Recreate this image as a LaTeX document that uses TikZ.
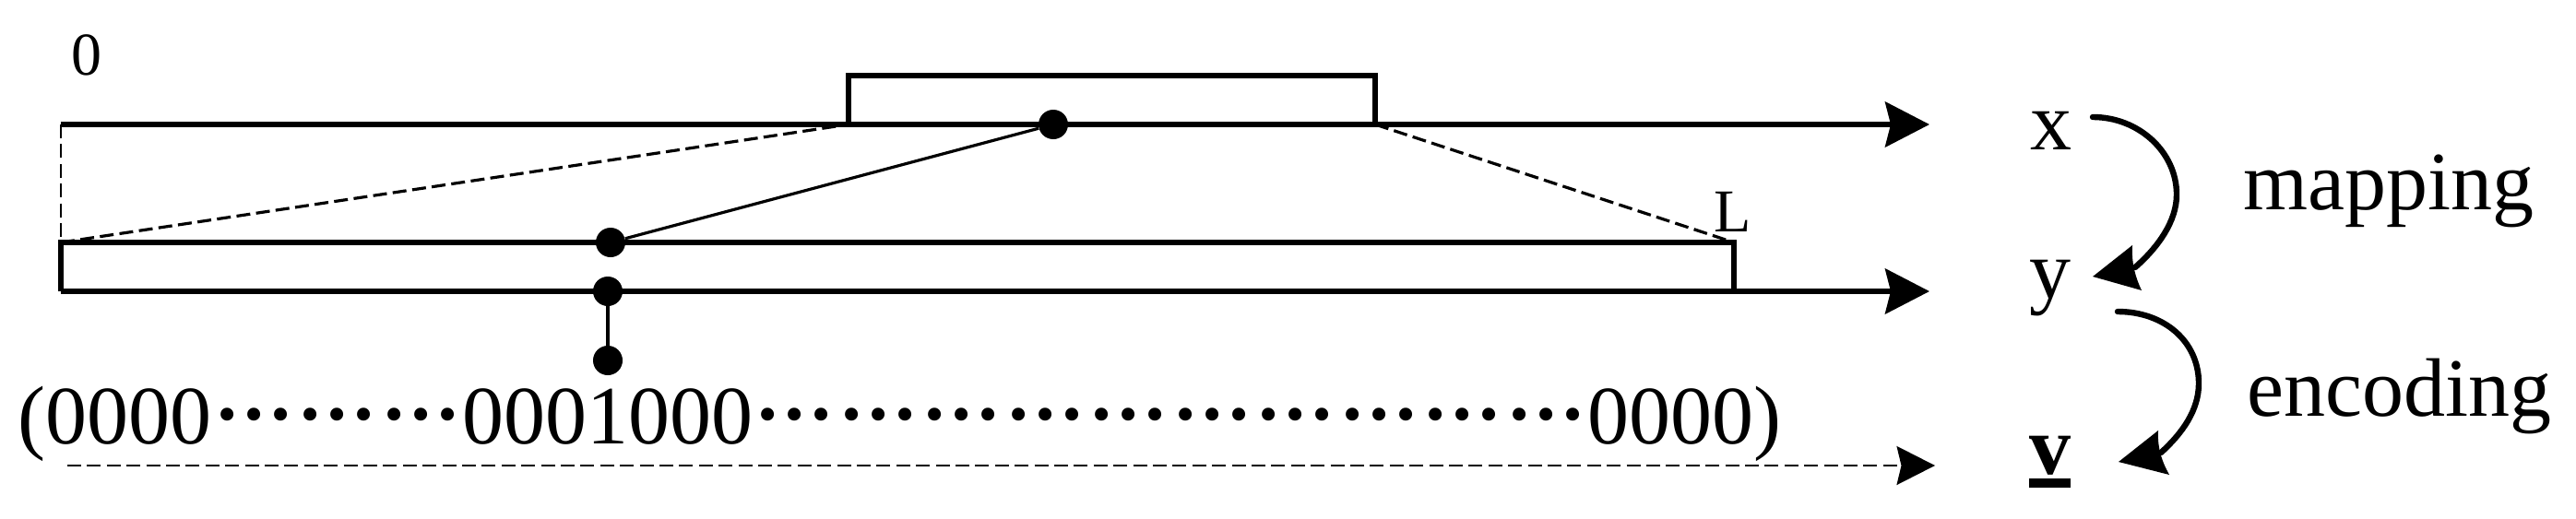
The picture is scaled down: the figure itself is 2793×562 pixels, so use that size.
\documentclass[tikz,border=0pt]{standalone}
\usepackage{fontspec}
\setmainfont{Liberation Serif}
\usetikzlibrary{arrows.meta}
\newcommand{\dotrun}{\makebox[45.25pt][c]{\raisebox{13pt}{\fontsize{43pt}{45pt}\selectfont\bfseries …}}}
\tikzset{
  x=0.5pt,y=-0.5pt,
  bigtext/.style={inner sep=0pt,anchor=base west,font=\fontsize{45pt}{50pt}\selectfont},
  smalltext/.style={inner sep=0pt,anchor=base west,font=\fontsize{33pt}{40pt}\selectfont},
  axis/.style={line width=2.9pt,-{Stealth[length=24pt,width=24.5pt,inset=3pt]}},
  thickline/.style={line width=2.9pt},
  thinline/.style={line width=1.6pt},
  guide/.style={line width=1.6pt,dash pattern=on 7.5pt off 3.2pt},
  fineguide/.style={line width=1.1pt,dash pattern=on 7.5pt off 3.2pt},
  blackdot/.style={circle,fill=black,inner sep=0pt,minimum size=16pt},
  turn/.style={line width=3.2pt,line cap=round}
}
\begin{document}
\begin{tikzpicture}
  \path[use as bounding box] (0,0) rectangle (2793,562);
  \coordinate (xstart) at (66,135);
  \coordinate (xend) at (2092,135);
  \coordinate (boxleft) at (920,135);
  \coordinate (boxlefttop) at (920,82);
  \coordinate (boxrighttop) at (1491,82);
  \coordinate (boxright) at (1491,135);
  \coordinate (ytopleft) at (66,263);
  \coordinate (ytopright) at (1880,263);
  \coordinate (ybotleft) at (66,316);
  \coordinate (ybotright) at (1880,316);
  \coordinate (yend) at (2092,316);
  \coordinate (vstart) at (73,505);
  \coordinate (vend) at (2098,505);

  \node[smalltext] (zero) at (77,81) {0};
  \node[smalltext] (len) at (1858,251) {L};
  \node[bigtext] (bits) at (19.5,481) {(0000\dotrun\dotrun\dotrun 0001000\dotrun\dotrun\dotrun\dotrun\dotrun\dotrun\dotrun\dotrun\dotrun\dotrun 0000)};
  \node[bigtext] (xlabel) at (2201,162) {x};
  \node[bigtext] (ylabel) at (2200,323) {y};
  \node[bigtext] (vlabel) at (2200,514) {\textbf{v}\llap{\rule[-7.5pt]{22.5pt}{5pt}}};
  \node[bigtext] (mapping) at (2432,227) {mapping};
  \node[bigtext] (encoding) at (2436,451) {encoding};

  \node[blackdot] (dota) at (1142,135) {};
  \node[blackdot] (dotb) at (662,263) {};
  \node[blackdot] (dotc) at (659,316) {};
  \node[blackdot] (dotd) at (659,391) {};

  \draw[axis] (xstart) -- (xend);
  \draw[axis] (ybotleft) -- (yend);
  \draw[thickline] (boxleft) -- (boxlefttop) -- (boxrighttop) -- (boxright);
  \draw[thickline] (ybotleft) -- (ytopleft) -- (ytopright) -- (ybotright);
  \draw[fineguide] (xstart) -- (ytopleft);
  \draw[guide] (ytopleft) -- (boxleft);
  \draw[guide] (boxright) -- (ytopright);
  \draw[fineguide,-{Stealth[length=20.75pt,width=21pt,inset=2.5pt]}] (vstart) -- (vend);
  \draw[thinline] (dota) -- (dotb);
  \draw[thinline] (dotc) -- (dotd);

  \draw[turn] (2269,127) .. controls (2319,127) and (2360,165) .. (2360,211)
    .. controls (2360,240) and (2340,268) .. (2315,290);
  \fill (2269,300) -- (2312,266) .. controls (2311,283) and (2314,298) .. (2322,315) -- cycle;
  \draw[turn] (2296,338) .. controls (2346,338) and (2384,370) .. (2384,416)
    .. controls (2384,445) and (2366,470) .. (2343,491);
  \fill (2297,501) -- (2340,467) .. controls (2339,484) and (2343,499) .. (2352,515) -- cycle;
\end{tikzpicture}
\end{document}
